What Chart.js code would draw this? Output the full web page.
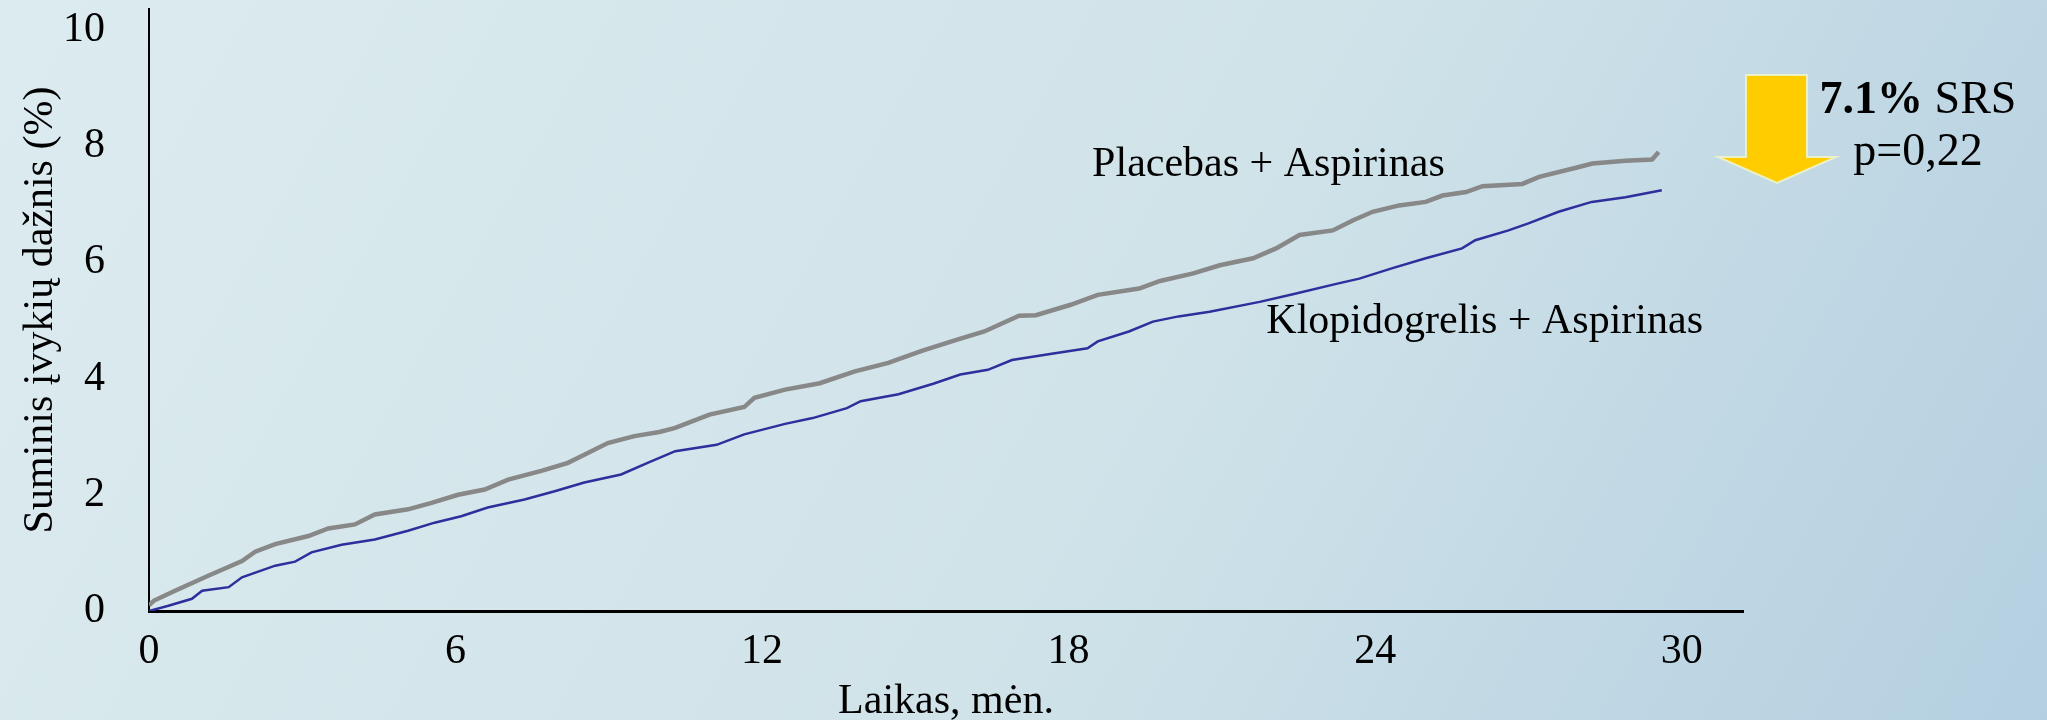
<!DOCTYPE html>
<html lang="lt">
<head>
<meta charset="utf-8">
<title>Suminis įvykių dažnis</title>
<script src="https://cdn.jsdelivr.net/npm/chart.js@4.4.1/dist/chart.umd.min.js"></script>
<style>
  html, body { margin: 0; padding: 0; width: 2047px; height: 720px; overflow: hidden; }
  body { background: linear-gradient(160deg, #dcebef 0%, #d0e3e9 50%, #aecbdf 100%); }
  #wrap { position: relative; width: 2047px; height: 720px; }
  canvas { display: block; }
</style>
</head>
<body>
<div id="wrap"><canvas id="km" width="2047" height="720"></canvas></div>
<script>
// Cumulative event rate (%) by month of follow-up
const placeboMonths = [0, 0.1, 0.51, 1.17, 1.82, 2.08, 2.47, 3.12, 3.51, 4.03, 4.42, 5.07, 5.53, 6.05, 6.57, 7.03, 7.68, 8.2, 8.52, 8.98, 9.5, 9.99, 10.3, 10.97, 11.65, 11.85, 12.45, 13.13, 13.8, 14.47, 15.14, 15.82, 16.35, 17.03, 17.36, 18.04, 18.57, 19.38, 19.79, 20.44, 20.96, 21.61, 22.06, 22.52, 23.17, 23.56, 23.95, 24.47, 24.99, 25.32, 25.78, 26.1, 26.88, 27.21, 27.99, 28.25, 28.9, 29.42, 29.55];
const placeboRates  = [0.1, 0.18, 0.35, 0.61, 0.86, 1.02, 1.15, 1.29, 1.42, 1.49, 1.66, 1.75, 1.86, 2.0, 2.09, 2.26, 2.41, 2.55, 2.69, 2.89, 3.01, 3.08, 3.15, 3.38, 3.51, 3.67, 3.81, 3.92, 4.12, 4.27, 4.48, 4.67, 4.81, 5.08, 5.09, 5.27, 5.44, 5.55, 5.68, 5.81, 5.95, 6.07, 6.24, 6.47, 6.55, 6.72, 6.87, 6.98, 7.04, 7.15, 7.21, 7.31, 7.35, 7.47, 7.64, 7.7, 7.75, 7.77, 7.9];

const clopiMonths = [0, 0.38, 0.84, 1.04, 1.56, 1.82, 2.47, 2.86, 3.18, 3.77, 4.42, 5.07, 5.59, 6.11, 6.63, 7.35, 7.94, 8.52, 9.24, 9.76, 10.3, 11.11, 11.65, 12.45, 12.99, 13.66, 13.93, 14.67, 15.35, 15.88, 16.42, 16.89, 17.7, 18.37, 18.57, 19.18, 19.65, 20.15, 20.76, 21.74, 22.39, 23.24, 23.69, 24.34, 24.99, 25.7, 25.96, 26.61, 27.0, 27.59, 28.24, 28.9, 29.61];
const clopiRates  = [0, 0.09, 0.21, 0.35, 0.41, 0.58, 0.78, 0.85, 1.01, 1.14, 1.23, 1.38, 1.52, 1.63, 1.78, 1.92, 2.06, 2.21, 2.35, 2.55, 2.75, 2.86, 3.04, 3.22, 3.32, 3.49, 3.61, 3.73, 3.91, 4.07, 4.15, 4.32, 4.43, 4.52, 4.64, 4.81, 4.98, 5.07, 5.15, 5.32, 5.45, 5.63, 5.72, 5.9, 6.07, 6.24, 6.38, 6.55, 6.67, 6.87, 7.04, 7.12, 7.24];

const xTicks = [0, 6, 12, 18, 24, 30];
const yTicks = [0, 2, 4, 6, 8, 10];

const seriesNames = ['Placebas + Aspirinas', 'Klopidogrelis + Aspirinas'];
const xTitle = 'Laikas, mėn.';
const yTitle = 'Suminis įvykių dažnis (%)';
const reductionPct = '7.1%';
const reductionLabel = ' SRS';
const pValueLabel = 'p=0,22';

// Where the curve labels sit, in data units (month, rate)
const labelAnchors = [[18.46, 7.49], [21.87, 4.78]];

const toPoints = (xs, ys) => xs.map((x, i) => ({ x: x, y: ys[i] }));

const FONT = '"Liberation Serif", "Times New Roman", serif';

const backgroundPlugin = {
  id: 'slideBackground',
  beforeDraw(chart) {
    const { ctx, width, height } = chart;
    const g = ctx.createLinearGradient(0, 0, width, height * 1.6);
    g.addColorStop(0, '#dcebef');
    g.addColorStop(0.5, '#d0e3e9');
    g.addColorStop(1, '#aecbdf');
    ctx.save();
    ctx.fillStyle = g;
    ctx.fillRect(0, 0, width, height);
    ctx.restore();
  }
};

const annotationPlugin = {
  id: 'curveNotes',
  afterDraw(chart) {
    const { ctx, scales: { x, y }, chartArea } = chart;
    ctx.save();
    ctx.fillStyle = '#000';
    ctx.textBaseline = 'alphabetic';
    ctx.textAlign = 'left';
    ctx.font = '42px ' + FONT;
    seriesNames.forEach((name, i) => {
      const [m, v] = labelAnchors[i];
      ctx.fillText(name, x.getPixelForValue(m), y.getPixelForValue(v));
    });

    // Downward arrow in the right margin
    const ax = chartArea.right + 34;
    const shaftL = ax - 31, shaftR = ax + 30;
    const headL = ax - 59, headR = ax + 59;
    const top = 75, neck = 157, tip = 183;
    ctx.beginPath();
    ctx.moveTo(shaftL, top);
    ctx.lineTo(shaftR, top);
    ctx.lineTo(shaftR, neck);
    ctx.lineTo(headR, neck);
    ctx.lineTo(ax, tip);
    ctx.lineTo(headL, neck);
    ctx.lineTo(shaftL, neck);
    ctx.closePath();
    ctx.fillStyle = '#ffcc00';
    ctx.fill();
    ctx.lineWidth = 2;
    ctx.strokeStyle = 'rgba(236, 244, 205, 0.9)';
    ctx.stroke();

    // Relative risk reduction and p-value
    const cx = chartArea.right + 175;
    ctx.fillStyle = '#000';
    ctx.font = 'bold 46px ' + FONT;
    const w1 = ctx.measureText(reductionPct).width;
    ctx.font = '46px ' + FONT;
    const w2 = ctx.measureText(reductionLabel).width;
    const startX = cx - (w1 + w2) / 2;
    ctx.textAlign = 'left';
    ctx.font = 'bold 46px ' + FONT;
    ctx.fillText(reductionPct, startX, 113);
    ctx.font = '46px ' + FONT;
    ctx.fillText(reductionLabel, startX + w1, 113);
    ctx.textAlign = 'center';
    ctx.fillText(pValueLabel, cx, 165);
    ctx.restore();
  }
};

new Chart(document.getElementById('km'), {
  type: 'line',
  data: {
    datasets: [
      {
        label: seriesNames[0],
        data: toPoints(placeboMonths, placeboRates),
        borderColor: '#888888',
        borderWidth: 4.5,
        pointRadius: 0,
        tension: 0,
        fill: false
      },
      {
        label: seriesNames[1],
        data: toPoints(clopiMonths, clopiRates),
        borderColor: '#2e2e9c',
        borderWidth: 2.5,
        pointRadius: 0,
        tension: 0,
        fill: false
      }
    ]
  },
  options: {
    responsive: false,
    animation: false,
    devicePixelRatio: 1,
    layout: { autoPadding: false, padding: { top: 9, right: 304, left: 0, bottom: 0 } },
    plugins: {
      legend: { display: false },
      tooltip: { enabled: false },
      title: { display: false }
    },
    scales: {
      x: {
        type: 'linear',
        min: 0,
        max: 31.2,
        afterFit(scale) {
          scale.height = 109;
          scale.paddingLeft = 0;
          scale.paddingRight = 0;
        },
        afterBuildTicks(scale) { scale.ticks = xTicks.map(v => ({ value: v })); },
        grid: { display: true, drawOnChartArea: false, drawTicks: false },
        border: { display: true, color: '#000', width: 3 },
        ticks: {
          color: '#000',
          font: { family: FONT, size: 42 },
          padding: 16,
          maxRotation: 0,
          autoSkip: false
        },
        title: {
          display: true,
          text: xTitle,
          color: '#000',
          font: { family: FONT, size: 42, lineHeight: 0.85 },
          padding: { top: 0, bottom: 0 }
        }
      },
      y: {
        min: 0,
        max: 10.36,
        afterFit(scale) {
          scale.width = 149;
          scale.paddingTop = 0;
          scale.paddingBottom = 0;
        },
        afterBuildTicks(scale) { scale.ticks = yTicks.map(v => ({ value: v })); },
        grid: { display: true, drawOnChartArea: false, drawTicks: false },
        border: { display: true, color: '#000', width: 2 },
        ticks: {
          color: '#000',
          font: { family: FONT, size: 42 },
          padding: 44
        },
        title: {
          display: true,
          text: yTitle,
          color: '#000',
          font: { family: FONT, size: 42, lineHeight: 1 },
          padding: { top: 20, bottom: 0 }
        }
      }
    }
  },
  plugins: [backgroundPlugin, annotationPlugin]
});
</script>
</body>
</html>
